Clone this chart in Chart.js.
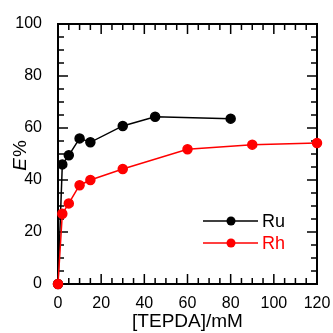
<!DOCTYPE html>
<html lang="en">
<head>
<meta charset="UTF-8"/>
<title>E% vs [TEPDA]</title>
<style>
  body { margin: 0; padding: 0; background: #fff; }
  #wrap { width: 333px; height: 333px; }
</style>
</head>
<body>
<div id="wrap"><canvas id="chart" width="333" height="333"></canvas></div>
<script src="https://cdn.jsdelivr.net/npm/chart.js"></script>
<script>
// data
const ruConc = [0, 2, 5, 10, 15, 30, 45, 80];
const ruE    = [0, 46, 49.5, 56, 54.5, 60.8, 64.3, 63.6];
const rhConc = [0, 2, 5, 10, 15, 30, 60, 90, 120];
const rhE    = [0, 27, 31, 38, 40, 44.2, 51.8, 53.6, 54.2];
const seriesNames = ["Ru", "Rh"];
const xTitle = "[TEPDA]/mM";

const FONT = "'Liberation Sans', Arial, sans-serif";

function pts(xs, ys) {
  return xs.map((x, i) => ({ x: x, y: ys[i] }));
}

// frame + inward ticks on all four sides
const framePlugin = {
  id: "frame",
  beforeDatasetsDraw(chart) {
    const ctx = chart.ctx;
    const a = chart.chartArea;
    const xs = chart.scales.x, ys = chart.scales.y;
    ctx.save();
    ctx.strokeStyle = "#000";
    ctx.lineWidth = 1.5;
    ctx.beginPath();
    for (let v = 0; v <= 120; v += 5) {
      const px = xs.getPixelForValue(v);
      const len = v % 20 === 0 ? 10 : 6;
      ctx.moveTo(px, a.bottom); ctx.lineTo(px, a.bottom - len);
      ctx.moveTo(px, a.top); ctx.lineTo(px, a.top + len);
    }
    for (let v = 0; v <= 100; v += 5) {
      const py = ys.getPixelForValue(v);
      const len = v % 20 === 0 ? 10 : 6;
      ctx.moveTo(a.left, py); ctx.lineTo(a.left + len, py);
      ctx.moveTo(a.right, py); ctx.lineTo(a.right - len, py);
    }
    ctx.stroke();
    ctx.lineWidth = 2;
    ctx.strokeRect(a.left, a.top, a.right - a.left, a.bottom - a.top);
    ctx.restore();
  }
};

// y title with italic E
const yTitlePlugin = {
  id: "ytitle",
  afterDraw(chart) {
    const ctx = chart.ctx;
    const a = chart.chartArea;
    ctx.save();
    ctx.translate(21, (a.top + a.bottom) / 2 + 2);
    ctx.rotate(-Math.PI / 2);
    ctx.fillStyle = "#000";
    ctx.textBaseline = "middle";
    const fi = "italic 19px " + FONT, fn = "19px " + FONT;
    ctx.font = fi;
    const wE = ctx.measureText("E").width;
    ctx.font = fn;
    const wP = ctx.measureText("%").width;
    let x = -(wE + wP) / 2;
    ctx.font = fi;
    ctx.fillText("E", x, 0);
    ctx.font = fn;
    ctx.fillText("%", x + wE + 1, 0);
    ctx.restore();
  }
};

// legend inside the plot, lower right
const legendPlugin = {
  id: "innerLegend",
  afterDraw(chart) {
    const ctx = chart.ctx;
    ctx.save();
    ctx.font = "18px " + FONT;
    ctx.textBaseline = "middle";
    chart.data.datasets.slice().sort((p, q) => p.legendIdx - q.legendIdx).forEach((ds, i) => {
      const y = 221 + i * 22;
      ctx.strokeStyle = ds.borderColor;
      ctx.fillStyle = ds.borderColor;
      ctx.lineWidth = 1.5;
      ctx.beginPath();
      ctx.moveTo(203, y); ctx.lineTo(258, y);
      ctx.stroke();
      ctx.beginPath();
      ctx.arc(231, y, 4.5, 0, Math.PI * 2);
      ctx.fill();
      ctx.fillText(ds.label, 262, y + 1);
    });
    ctx.restore();
  }
};

new Chart(document.getElementById("chart"), {
  type: "line",
  data: {
    datasets: [
      {
        label: seriesNames[0], legendIdx: 0, order: 1,
        data: pts(ruConc, ruE),
        borderColor: "#000000", backgroundColor: "#000000",
        borderWidth: 1.5, pointRadius: 4.5, pointHoverRadius: 4.5,
        tension: 0, clip: false
      },
      {
        label: seriesNames[1], legendIdx: 1, order: 0,
        data: pts(rhConc, rhE),
        borderColor: "#ff0000", backgroundColor: "#ff0000",
        borderWidth: 1.5, pointRadius: 4.5, pointHoverRadius: 4.5,
        tension: 0, clip: false
      }
    ]
  },
  options: {
    responsive: false,
    animation: false,
    layout: { padding: { top: 24, right: 16, bottom: 0, left: 0 } },
    plugins: { legend: { display: false }, tooltip: { enabled: false } },
    scales: {
      x: {
        type: "linear", min: 0, max: 120,
        grid: { display: false }, border: { display: false },
        ticks: { stepSize: 20, color: "#000", padding: 2, maxRotation: 0,
                 font: { family: FONT, size: 16 } },
        title: { display: true, text: xTitle, color: "#000",
                 font: { family: FONT, size: 19 }, padding: { top: 0, bottom: 0 } },
        afterFit(s) { s.height = 49; }
      },
      y: {
        type: "linear", min: 0, max: 100,
        grid: { display: false }, border: { display: false },
        ticks: { stepSize: 20, color: "#000", padding: 8,
                 font: { family: FONT, size: 16 } },
        afterFit(s) { s.width = 58; }
      }
    }
  },
  plugins: [framePlugin, yTitlePlugin, legendPlugin]
});
</script>
</body>
</html>
